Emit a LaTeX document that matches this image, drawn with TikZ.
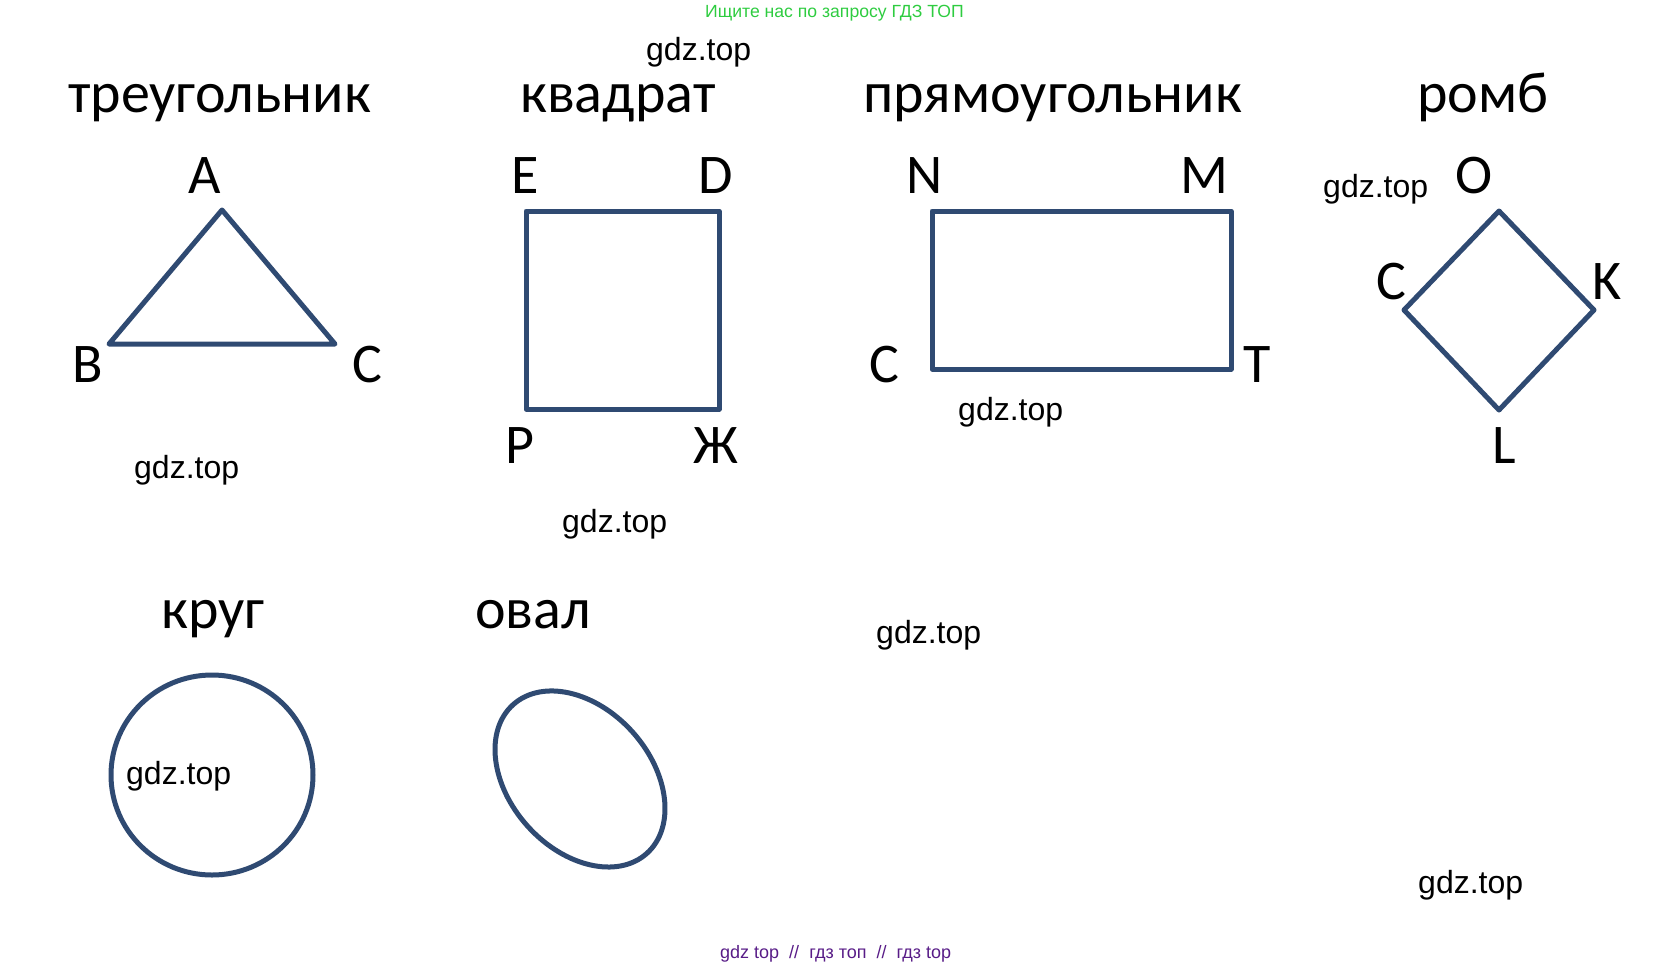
\documentclass[tikz,border=0pt]{standalone}
\usepackage{fontspec}
\setmainfont{Carlito}
\newfontfamily\wmfont{Liberation Sans}
\definecolor{shapeblue}{RGB}{47,74,114}
\definecolor{hdrgreen}{RGB}{46,204,64}
\definecolor{ftpurple}{RGB}{88,28,135}
\begin{document}
\begin{tikzpicture}[x=1pt,y=-1pt,
  ttl/.style={anchor=base west, inner sep=0pt, font=\fontsize{58}{64}\selectfont},
  lab/.style={anchor=base west, inner sep=0pt, font=\fontsize{56}{60}\selectfont},
  wmk/.style={anchor=base west, inner sep=0pt, font=\wmfont\fontsize{32}{34}\selectfont},
  shp/.style={draw=shapeblue, line width=5pt, line join=round}]
\useasboundingbox (0,0) rectangle (1668,967);
% header / footer
\node[anchor=base west, inner sep=0pt, text=hdrgreen, font=\wmfont\fontsize{17.6}{19}\selectfont] (hdr) at (705,17) {Ищите нас по запросу ГДЗ ТОП};
\node[anchor=base west, inner sep=0pt, text=ftpurple, font=\wmfont\fontsize{18}{20}\selectfont] (ftr) at (720,958) {gdz top\ \ //\ \ гдз топ\ \ //\ \ гдз top};
% titles
\node[ttl] (t1) at (68,112) {треугольник};
\node[ttl] (t2) at (520,112) {квадрат};
\node[ttl] (t3) at (863,112) {прямоугольник};
\node[ttl] (t4) at (1417,112) {ромб};
\node[ttl] (t5) at (161,628) {круг};
\node[ttl] (t6) at (475,628) {овал};
% triangle
\coordinate (A) at (222,210);
\coordinate (B) at (109,344);
\coordinate (C) at (335,344);
\draw[shp] (A) -- (B) -- (C) -- cycle;
\node[lab] (lA) at (188,193) {A};
\node[lab] (lB) at (72,382) {B};
\node[lab] (lC) at (352,382) {C};
% square
\coordinate (E) at (526,211);
\coordinate (Zh) at (719,409);
\draw[shp] (E) rectangle (Zh);
\node[lab] (lE) at (511,193) {E};
\node[lab] (lD) at (698,193) {D};
\node[lab] (lP) at (505,463) {P};
\node[lab] (lZh) at (693,463) {Ж};
% rectangle
\coordinate (N) at (932,211);
\coordinate (T) at (1231,369);
\draw[shp] (N) rectangle (T);
\node[lab] (lN) at (906,193) {N};
\node[lab] (lM) at (1180,193) {M};
\node[lab] (lC2) at (869,382) {C};
\node[lab] (lT) at (1243,382) {T};
% rhombus
\coordinate (O) at (1499,211);
\coordinate (K) at (1594,310);
\coordinate (L) at (1499,410);
\coordinate (C3) at (1404,310);
\draw[shp] (O) -- (K) -- (L) -- (C3) -- cycle;
\node[lab] (lO) at (1455,193) {O};
\node[lab] (lC3) at (1376,299) {C};
\node[lab] (lK) at (1592,299) {K};
\node[lab] (lL) at (1492,463) {L};
% circle and oval
\coordinate (cc) at (212,775);
\draw[shp] (cc) ellipse [x radius=101, y radius=100];
\coordinate (oc) at (580,779);
\draw[shp, rotate around={-48:(oc)}] (oc) ellipse [x radius=100, y radius=70.5];
% watermarks
\node[wmk] (w1) at (646,60) {gdz.top};
\node[wmk] (w2) at (134,478) {gdz.top};
\node[wmk] (w3) at (562,532) {gdz.top};
\node[wmk] (w4) at (958,420) {gdz.top};
\node[wmk] (w5) at (1323,197) {gdz.top};
\node[wmk] (w6) at (126,784) {gdz.top};
\node[wmk] (w7) at (876,643) {gdz.top};
\node[wmk] (w8) at (1418,893) {gdz.top};
\end{tikzpicture}
\end{document}
